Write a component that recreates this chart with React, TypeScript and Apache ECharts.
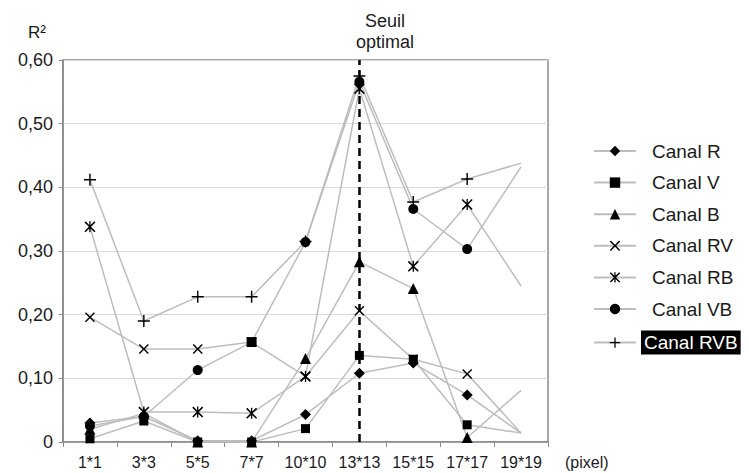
import React, { useEffect, useRef } from "react";
import * as echarts from "echarts";

const categories = ["1*1", "3*3", "5*5", "7*7", "10*10", "13*13", "15*15", "17*17", "19*19"];
const yTicks = [0, 0.1, 0.2, 0.3, 0.4, 0.5, 0.6];
const yTickLabels = ["0", "0,10", "0,20", "0,30", "0,40", "0,50", "0,60"];

const canalR = [0.03, 0.04, 0.002, 0.002, 0.043, 0.108, 0.124, 0.074, 0.014];
const canalV = [0.005, 0.033, 0.0, 0.0, 0.021, 0.136, 0.13, 0.027, 0.014];
const canalB = [0.02, 0.045, 0.0, 0.0, 0.131, 0.283, 0.241, 0.007, 0.081];
const canalRV = [0.196, 0.146, 0.146, 0.157, 0.103, 0.206, 0.13, 0.107, 0.014];
const canalRB = [0.338, 0.047, 0.047, 0.045, 0.103, 0.555, 0.276, 0.373, 0.245];
const canalVB = [0.025, 0.04, 0.113, 0.157, 0.314, 0.566, 0.366, 0.303, 0.432];
const canalRVB = [0.412, 0.19, 0.228, 0.228, 0.315, 0.575, 0.377, 0.413, 0.438];

const seriesNames = ["Canal R", "Canal V", "Canal B", "Canal RV", "Canal RB", "Canal VB", "Canal RVB"];
const optimalCategory = "13*13";

const X_PATH = "path://M0,1 L1,0 L5,4 L9,0 L10,1 L6,5 L10,9 L9,10 L5,6 L1,10 L0,9 L4,5 Z";
const AST_PATH =
  "path://M0,1 L1,0 L5,4 L9,0 L10,1 L6,5 L10,9 L9,10 L5,6 L1,10 L0,9 L4,5 Z M4.4,0 L5.6,0 L5.6,10 L4.4,10 Z";
const PLUS_PATH =
  "path://M4.4,0 L5.6,0 L5.6,4.4 L10,4.4 L10,5.6 L5.6,5.6 L5.6,10 L4.4,10 L4.4,5.6 L0,5.6 L0,4.4 L4.4,4.4 Z";

const FONT = "'Liberation Sans', Arial, sans-serif";
const TXT = "#1a1a1a";

export default function App() {
  const ref = useRef<HTMLDivElement>(null);
  useEffect(() => {
    if (!ref.current) return;
    const chart = echarts.init(ref.current, null, { renderer: "svg" });

    const seriesData = [canalR, canalV, canalB, canalRV, canalRB, canalVB, canalRVB];
    const symbols = ["diamond", "rect", "triangle", X_PATH, AST_PATH, "circle", PLUS_PATH];
    const sizes = [11, 9, 11, 10, 11, 10, 12];
    const last = categories.length - 1;

    const series: any[] = seriesData.map((vals, si) => ({
      name: seriesNames[si],
      type: "line",
      symbol: symbols[si],
      symbolSize: sizes[si],
      showAllSymbol: true,
      lineStyle: { color: "#bdbdbd", width: 1.5 },
      itemStyle: { color: "#000" },
      emphasis: { disabled: true },
      z: 2,
      data: vals.map((v, i) => {
        if (i === last) return { value: v, symbol: "none" };
        if (si === 5 && i === 3) return { value: v, symbol: "rect", symbolSize: 10 };
        return v;
      }),
    }));

    series[6].markLine = {
      silent: true,
      symbol: "none",
      label: { show: false },
      lineStyle: { color: "#000", width: 2.5, type: [8, 5] },
      data: [{ xAxis: optimalCategory }],
    };

    chart.setOption({
      animation: false,
      backgroundColor: "#fff",
      textStyle: { fontFamily: FONT },
      grid: {
        left: 63,
        top: 60,
        right: 201,
        bottom: 31,
        show: true,
        borderColor: "#8a8a8a",
        borderWidth: 1.5,
      },
      xAxis: {
        type: "category",
        data: categories,
        boundaryGap: true,
        axisLine: { lineStyle: { color: "#8a8a8a", width: 1.5 } },
        axisTick: { show: true, length: 5, lineStyle: { color: "#8a8a8a" } },
        axisLabel: {
          color: TXT,
          fontSize: 16,
          fontFamily: FONT,
          margin: 12,
          interval: 0,
          hideOverlap: false,
        },
        splitLine: { show: false },
      },
      yAxis: {
        type: "value",
        min: 0,
        max: 0.6,
        interval: 0.1,
        axisLine: { show: true, lineStyle: { color: "#8a8a8a", width: 1.5 } },
        axisTick: { show: true, length: 4, lineStyle: { color: "#8a8a8a" } },
        axisLabel: {
          color: TXT,
          fontSize: 18,
          fontFamily: FONT,
          margin: 10,
          formatter: (v: number) => {
            const idx = yTicks.findIndex((t) => Math.abs(t - v) < 1e-6);
            return idx >= 0 ? yTickLabels[idx] : "";
          },
        },
        splitLine: { show: true, lineStyle: { color: "#dadada", width: 1 } },
      },
      legend: {
        orient: "vertical",
        left: 593,
        top: 141,
        padding: 0,
        itemWidth: 42,
        itemHeight: 13,
        itemGap: 11.6,
        selectedMode: false,
        textStyle: {
          color: TXT,
          fontSize: 19,
          fontFamily: FONT,
          lineHeight: 20,
          padding: [0, 0, 0, 11],
        },
        data: seriesNames.map((n) =>
          n === "Canal RVB"
            ? {
                name: n,
                textStyle: {
                  color: "#fff",
                  backgroundColor: "#000",
                  padding: [2, 3, 2, 3],
                  fontSize: 19,
                  lineHeight: 20,
                },
              }
            : { name: n }
        ),
      },
      graphic: [
        {
          type: "text",
          left: 356,
          top: 10,
          style: {
            text: "Seuil\noptimal",
            fill: TXT,
            font: `18px ${FONT}`,
            textAlign: "center",
            lineHeight: 21,
          },
        },
        {
          type: "text",
          x: 37,
          y: 32,
          style: {
            text: "R²",
            fill: TXT,
            font: `17px ${FONT}`,
            textAlign: "center",
            textVerticalAlign: "middle",
          },
        },
        {
          type: "text",
          x: 565,
          y: 462,
          style: {
            text: "(pixel)",
            fill: TXT,
            font: `16px ${FONT}`,
            textAlign: "left",
            textVerticalAlign: "middle",
          },
        },
      ],
      series,
    });
    return () => chart.dispose();
  }, []);

  return (
    <div
      ref={ref}
      style={{ position: "fixed", left: 0, top: 0, width: 749, height: 473, background: "#fff" }}
    />
  );
}
